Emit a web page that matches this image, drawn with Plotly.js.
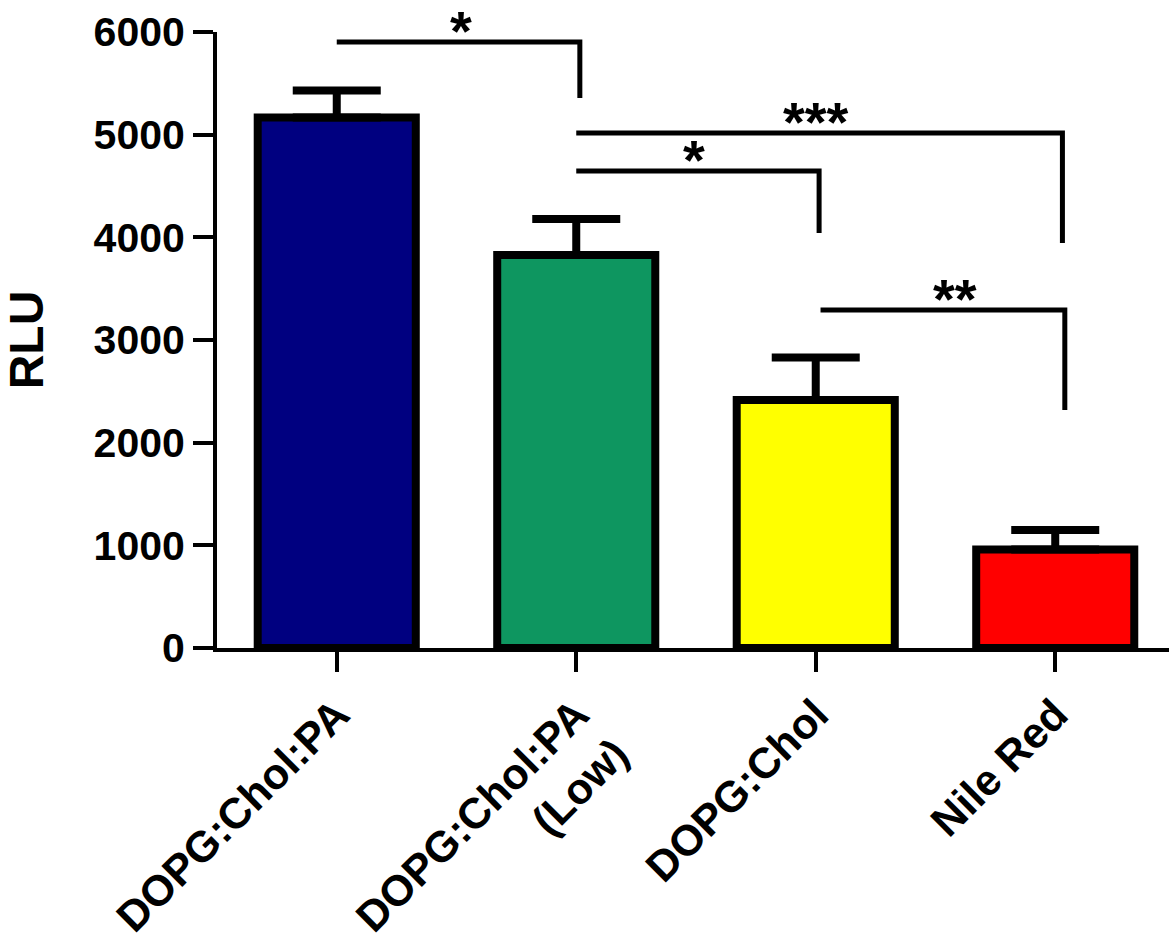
<!DOCTYPE html>
<html>
<head>
<meta charset="utf-8">
<script src="https://cdn.plot.ly/plotly-3.0.1.min.js"></script>
<style>html,body{margin:0;padding:0;background:#fff;}#chart{width:1169px;height:949px;}</style>
</head>
<body>
<div id="chart"></div>
<script>
// ---- data ----
const categories = ["DOPG:Chol:PA", "DOPG:Chol:PA<br>(Low)", "DOPG:Chol", "Nile Red"];
const rluMean = [5167, 3828, 2416, 959];
const rluSem = [263, 350, 413, 190];
const barColors = ["#000080", "#0E9660", "#FFFF00", "#FF0000"];
const yTickValues = [0, 1000, 2000, 3000, 4000, 5000, 6000];

// significance brackets: start index, end index, bracket level, drop-to level, label, label position
const sigStart = [0, 1, 1, 2.02];
const sigEnd = [1.015, 2.014, 3.03, 3.04];
const sigLevel = [5902, 4646, 5016, 3292];
const sigDrop = [5357, 4042, 3945, 2318];
const sigLabel = ["*", "*", "***", "**"];
const sigLabelX = [0.52, 1.49, 2.0, 2.58];

const FONT = "Liberation Sans, Arial, Helvetica, sans-serif";
const xIdx = categories.map((c, i) => i);

const trace = {
  type: "bar",
  x: xIdx,
  y: rluMean,
  width: 0.66,
  marker: { color: barColors, line: { color: "#000", width: 8 } },
  error_y: {
    type: "data", array: rluSem, arrayminus: rluSem.map(() => 0),
    color: "#000", thickness: 8, width: 44
  },
  hoverinfo: "x+y"
};

const shapes = sigStart.map((s, i) => ({
  type: "path", xref: "x", yref: "y",
  path: `M ${s},${sigLevel[i]} L ${sigEnd[i]},${sigLevel[i]} L ${sigEnd[i]},${sigDrop[i]}`,
  line: { color: "#000", width: 5 }
}));

const annotations = sigLabel.map((t, i) => ({
  x: sigLabelX[i], y: sigLevel[i], xref: "x", yref: "y",
  text: t, showarrow: false, yanchor: "middle", xanchor: "center", yshift: 12,
  font: { family: FONT, size: 56, weight: "bold", color: "#000" }
}));

const layout = {
  width: 1169, height: 949,
  margin: { l: 217, r: 0, t: 32, b: 301, pad: 0 },
  paper_bgcolor: "#fff", plot_bgcolor: "#fff",
  showlegend: false,
  font: { family: FONT, color: "#000" },
  xaxis: {
    range: [-0.5, 3.475],
    tickvals: xIdx, ticktext: categories,
    tickangle: -45, automargin: false,
    tickfont: { family: FONT, size: 43, weight: "bold", color: "#000" },
    showline: true, linecolor: "#000", linewidth: 4,
    ticks: "outside", ticklen: 20, tickwidth: 4, tickcolor: "#000",
    showgrid: false, zeroline: false, fixedrange: true
  },
  yaxis: {
    range: [0, 6000], automargin: false,
    tickvals: yTickValues, ticktext: yTickValues.map(String),
    tickfont: { family: FONT, size: 41, weight: "bold", color: "#000" },
    showline: true, linecolor: "#000", linewidth: 4,
    ticks: "outside", ticklen: 20, tickwidth: 4, tickcolor: "#000",
    showgrid: false, zeroline: false, fixedrange: true,
    title: { text: "RLU", font: { family: FONT, size: 48, weight: "bold", color: "#000" }, standoff: 36 }
  },
  shapes: shapes,
  annotations: annotations
};

Plotly.newPlot("chart", [trace], layout, { displayModeBar: false, staticPlot: true });
</script>
</body>
</html>
